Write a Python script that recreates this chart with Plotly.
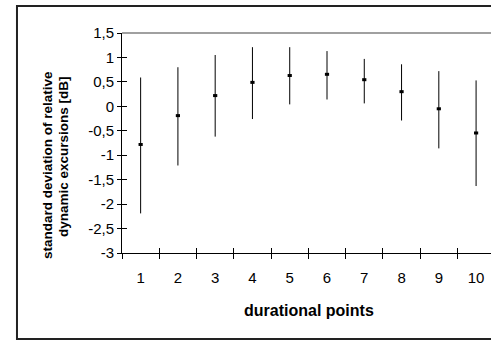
import plotly.graph_objects as go

points = [1, 2, 3, 4, 5, 6, 7, 8, 9, 10]
means = [-0.78, -0.19, 0.22, 0.49, 0.63, 0.655, 0.545, 0.30, -0.05, -0.545]
upper = [0.59, 0.80, 1.05, 1.21, 1.21, 1.13, 0.97, 0.86, 0.72, 0.53]
lower = [-2.19, -1.21, -0.62, -0.26, 0.04, 0.14, 0.06, -0.29, -0.86, -1.63]
y_tickvals = [-3, -2.5, -2, -1.5, -1, -0.5, 0, 0.5, 1, 1.5]
y_ticktext = ["-3", "-2,5", "-2", "-1,5", "-1", "-0,5", "0", "0,5", "1", "1,5"]
x_ticktext = [str(p) for p in points]
between = [p - 0.5 for p in points]

err_plus = [u - m for u, m in zip(upper, means)]
err_minus = [m - l for m, l in zip(means, lower)]

FONT = "Liberation Sans, Arial, sans-serif"

fig = go.Figure()
fig.add_trace(go.Scatter(
    x=points, y=means, mode="markers",
    marker=dict(symbol="line-ew", size=3, color="black",
                line=dict(color="black", width=3)),
    error_y=dict(type="data", symmetric=False, array=err_plus,
                 arrayminus=err_minus, width=0, thickness=1, color="black"),
    showlegend=False, hoverinfo="skip",
))
# dummy trace for overlay axes carrying inner tick halves
fig.add_trace(go.Scatter(x=[None], y=[None], xaxis="x2", yaxis="y2",
                         showlegend=False, hoverinfo="skip"))

xr = [0.5, 10.4]
yr = [-3, 1.5]

fig.update_layout(
    width=491, height=342,
    margin=dict(l=122, r=0, t=33, b=89),
    paper_bgcolor="white", plot_bgcolor="white",
    font=dict(family=FONT, color="black", size=15),
    xaxis=dict(
        range=xr, tickmode="array", tickvals=points, ticktext=x_ticktext,
        ticks="outside", ticklen=11, tickcolor="rgba(0,0,0,0)",
        showline=True, linecolor="black", linewidth=1,
        showgrid=False, zeroline=False,
        tickfont=dict(size=15),
        minor=dict(tickmode="array", tickvals=between, ticks="outside",
                   ticklen=5, tickcolor="black", tickwidth=1, showgrid=False),
    ),
    yaxis=dict(
        range=yr, tickmode="array", tickvals=y_tickvals, ticktext=y_ticktext,
        ticks="outside", ticklen=4, tickcolor="black", tickwidth=1,
        showline=True, linecolor="black", linewidth=1,
        showgrid=False, zeroline=False,
        tickfont=dict(size=15),
    ),
    xaxis2=dict(
        overlaying="x", anchor="y2", side="bottom", range=xr,
        tickmode="array", tickvals=between, ticks="inside", ticklen=5,
        tickcolor="black", tickwidth=1, showticklabels=False,
        showline=False, showgrid=False, zeroline=False,
    ),
    yaxis2=dict(
        overlaying="y", anchor="x2", side="left", range=yr,
        tickmode="array", tickvals=y_tickvals, ticks="inside", ticklen=5,
        tickcolor="black", tickwidth=1, showticklabels=False,
        showline=False, showgrid=False, zeroline=False,
    ),
    shapes=[
        dict(type="line", xref="paper", yref="paper", x0=0, x1=1, y0=1, y1=1,
             line=dict(color="#a0a0a0", width=2)),
        dict(type="rect", xref="paper", yref="paper",
             x0=-0.2846, x1=1.02, y0=-0.3909, y1=1.1227,
             line=dict(color="#222222", width=2), layer="above"),
    ],
    annotations=[
        dict(text="<b>durational points</b>", xref="paper", yref="paper",
             x=0.5068, y=-0.2636, xanchor="center", yanchor="middle",
             showarrow=False, font=dict(size=16, family=FONT)),
        dict(text="<b>standard deviation of relative</b>", xref="paper", yref="paper",
             x=(47 - 122) / 369, y=(253 - 165) / 220, xanchor="center", yanchor="middle",
             textangle=-90, showarrow=False, font=dict(size=13.5, family=FONT)),
        dict(text="<b>dynamic excursions [dB]</b>", xref="paper", yref="paper",
             x=(63 - 122) / 369, y=(253 - 157) / 220, xanchor="center", yanchor="middle",
             textangle=-90, showarrow=False, font=dict(size=13.5, family=FONT)),
    ],
)

fig.write_html("out.html")
